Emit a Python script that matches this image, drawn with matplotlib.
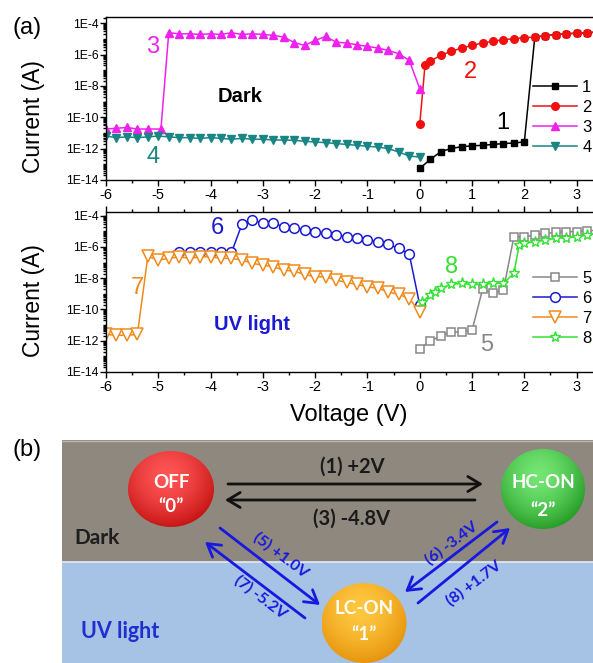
import numpy as np
import matplotlib
matplotlib.use("Agg")
import matplotlib.pyplot as plt
from matplotlib.patches import Ellipse, Rectangle
from matplotlib.ticker import FixedLocator, FuncFormatter, MultipleLocator, NullFormatter

plt.rcParams["font.family"] = ["Liberation Sans", "DejaVu Sans"]
plt.rcParams["axes.unicode_minus"] = False

# ---- I-V sweeps in the dark (log10 of current in A) ----
v1 = [0.0, 0.2, 0.4, 0.6, 0.8, 1.0, 1.2, 1.4, 1.6, 1.8, 2.0, 2.2, 2.4, 2.6, 2.8, 3.0, 3.2, 3.4]
logi1 = [-13.26, -12.69, -12.20, -11.99, -11.88, -11.82, -11.79, -11.73, -11.68, -11.64, -11.57,
         -4.89, -4.80, -4.74, -4.68, -4.64, -4.61, -4.57]

v2 = [0.0, 0.1, 0.2, 0.4, 0.6, 0.8, 1.0, 1.2, 1.4, 1.6, 1.8, 2.0, 2.2, 2.4, 2.6, 2.8, 3.0, 3.2, 3.4]
logi2 = [-10.45, -6.7, -6.42, -6.06, -5.80, -5.59, -5.42, -5.27, -5.15, -5.06, -4.99, -4.93,
         -4.89, -4.80, -4.74, -4.68, -4.64, -4.61, -4.57]

v3 = [-6.0, -5.8, -5.6, -5.4, -5.2, -4.95, -4.8, -4.6, -4.4, -4.2, -4.0, -3.8, -3.6, -3.4, -3.2,
      -3.0, -2.8, -2.6, -2.4, -2.2, -2.0, -1.8, -1.6, -1.4, -1.2, -1.0, -0.8, -0.6, -0.4, -0.2, 0.0]
logi3 = [-10.75, -10.7, -10.65, -10.75, -10.75, -10.75, -4.61, -4.68, -4.68, -4.72, -4.68, -4.72,
         -4.61, -4.72, -4.68, -4.72, -4.78, -4.89, -5.24, -5.42, -5.10, -4.85, -5.21, -5.27, -5.38,
         -5.48, -5.59, -5.74, -5.95, -6.38, -8.18]

v4 = [-6.0, -5.8, -5.6, -5.4, -5.2, -5.0, -4.8, -4.6, -4.4, -4.2, -4.0, -3.8, -3.6, -3.4, -3.2, -3.0,
      -2.8, -2.6, -2.4, -2.2, -2.0, -1.8, -1.6, -1.4, -1.2, -1.0, -0.8, -0.6, -0.4, -0.2, 0.0]
logi4 = [-11.2, -11.3, -11.25, -11.3, -11.25, -11.2, -11.25, -11.3, -11.3, -11.35, -11.3, -11.35,
         -11.4, -11.35, -11.4, -11.4, -11.45, -11.45, -11.47, -11.53, -11.58, -11.62, -11.68, -11.73,
         -11.79, -11.85, -11.90, -12.0, -12.22, -12.47, -12.54]

# ---- I-V sweeps under UV light ----
v5 = [0.0, 0.2, 0.4, 0.6, 0.8, 1.0, 1.2, 1.4, 1.6, 1.8, 2.0, 2.2, 2.4, 2.6, 2.8, 3.0, 3.2, 3.4]
logi5 = [-12.50, -12.03, -11.69, -11.44, -11.44, -11.33, -8.72, -8.94, -8.76, -5.35, -5.35, -5.24,
         -5.13, -5.07, -5.02, -5.02, -4.98, -4.92]

v6 = [-4.6, -4.4, -4.2, -4.0, -3.8, -3.6, -3.4, -3.2, -3.0, -2.8, -2.6, -2.4, -2.2, -2.0, -1.8,
      -1.6, -1.4, -1.2, -1.0, -0.8, -0.6, -0.4, -0.2, 0.0]
logi6 = [-6.35, -6.3, -6.35, -6.3, -6.35, -6.35, -4.55, -4.27, -4.49, -4.49, -4.70, -4.79, -4.92,
         -5.02, -5.13, -5.24, -5.35, -5.45, -5.56, -5.67, -5.84, -6.09, -6.47, -9.72]

v7 = [-6.0, -5.8, -5.6, -5.4, -5.2, -5.0, -4.8, -4.6, -4.4, -4.2, -4.0, -3.8, -3.6, -3.4, -3.2, -3.0,
      -2.8, -2.6, -2.4, -2.2, -2.0, -1.8, -1.6, -1.4, -1.2, -1.0, -0.8, -0.6, -0.4, -0.2, 0.0]
logi7 = [-11.6, -11.65, -11.65, -11.6, -6.6, -6.84, -6.73, -6.63, -6.73, -6.63, -6.63, -6.73, -6.73,
         -6.84, -7.05, -7.16, -7.27, -7.48, -7.55, -7.76, -7.91, -7.91, -8.12, -8.27, -8.40, -8.55,
         -8.65, -8.87, -9.04, -9.30, -10.15]

v8 = [0.05, 0.2, 0.3, 0.4, 0.6, 0.8, 1.0, 1.2, 1.4, 1.6, 1.8, 1.9, 2.0, 2.2, 2.4, 2.6, 2.8, 3.0, 3.2, 3.4]
logi8 = [-9.51, -9.08, -8.87, -8.65, -8.40, -8.33, -8.40, -8.40, -8.33, -8.33, -7.69, -5.88, -5.77,
         -5.67, -5.56, -5.45, -5.41, -5.35, -5.24, -5.13]

dark_labels = ["1", "2", "3", "4"]
uv_labels = ["5", "6", "7", "8"]

# ---- state diagram ----
state_names = ["OFF", "LC-ON", "HC-ON"]
state_codes = ["\u201c0\u201d", "\u201c1\u201d", "\u201c2\u201d"]
transition_labels = ["(1) +2V", "(3) -4.8V", "(5) +1.0V", "(7) -5.2V", "(6) -3.4V", "(8) +1.7V"]

W, H = 593, 663
fig = plt.figure(figsize=(W / 100, H / 100), dpi=100)


def setup_axes(ax, top_ticks):
    ax.set_yscale("log")
    ax.set_xlim(-6, 3.6)
    ax.yaxis.set_major_locator(FixedLocator(10.0 ** np.arange(-14, -3, 2)))
    minors = [m * 10.0 ** k for k in range(-14, -3) for m in range(1, 10)]
    ax.yaxis.set_minor_locator(FixedLocator(minors))
    ax.yaxis.set_major_formatter(FuncFormatter(lambda v, p: "1E%d" % round(np.log10(v))))
    ax.yaxis.set_minor_formatter(NullFormatter())
    ax.xaxis.set_major_locator(MultipleLocator(1))
    ax.xaxis.set_minor_locator(MultipleLocator(0.5))
    ax.tick_params(which="both", direction="out", width=1, top=top_ticks)
    ax.tick_params(which="major", length=4)
    ax.tick_params(which="minor", length=2.5)
    ax.tick_params(axis="x", labelsize=10.5, pad=2)
    ax.tick_params(axis="y", labelsize=8.8, pad=1.5)
    for s in ax.spines.values():
        s.set_linewidth(1.0)
    ax.set_ylabel("Current (A)", fontsize=16.5)


def px(x, y, ax_box, ylog_top, ylog_bot):
    """pixel position -> (voltage, current) for the given panel geometry"""
    x0, y0, x1, y1 = ax_box
    v = -6 + (x - x0) / (x1 - x0) * 9.6
    lg = ylog_top + (y - y0) / (y1 - y0) * (ylog_bot - ylog_top)
    return v, 10 ** lg


# ---------------- top panel: dark ----------------
top_box = (106, 17.5, 608, 180)
top_lim = (-3.64, -14.0)
ax1 = fig.add_axes([top_box[0] / W, 1 - top_box[3] / H,
                    (top_box[2] - top_box[0]) / W, (top_box[3] - top_box[1]) / H])
setup_axes(ax1, False)
ax1.set_ylim(10 ** top_lim[1], 10 ** top_lim[0])
ax1.yaxis.set_label_coords(-0.122, 0.39)

l1, = ax1.plot(v1, 10.0 ** np.array(logi1), "-s", color="black", ms=4.5, lw=1.1)
l2, = ax1.plot(v2, 10.0 ** np.array(logi2), "-o", color="#f01010", ms=5.5, lw=1.1)
l3, = ax1.plot(v3, 10.0 ** np.array(logi3), "-^", color="#ee22ee", ms=5.5, lw=1.1)
l4, = ax1.plot(v4, 10.0 ** np.array(logi4), "-v", color="#1a8585", ms=5.5, lw=1.1)
ax1.legend([l1, l2, l3, l4], dark_labels, loc="upper left", bbox_to_anchor=(0.8506, 0.615),
           frameon=False, fontsize=12, handlelength=2.65, handletextpad=0.3,
           labelspacing=0.3, borderpad=0, borderaxespad=0)

for txt, x, y, c in [("3", 153, 47, "#ee22ee"), ("4", 153, 157, "#1a8585"),
                     ("2", 470, 72, "#f01010"), ("1", 503, 123, "black")]:
    ax1.text(*px(x, y, top_box, *top_lim), txt, color=c, fontsize=17, ha="center", va="center")
ax1.text(*px(240, 97, top_box, *top_lim), "Dark", fontsize=14.5, fontweight="bold",
         ha="center", va="center")

# ---------------- bottom panel: UV light ----------------
bot_box = (106, 212, 608, 372)
bot_lim = (-3.763, -14.0)
ax2 = fig.add_axes([bot_box[0] / W, 1 - bot_box[3] / H,
                    (bot_box[2] - bot_box[0]) / W, (bot_box[3] - bot_box[1]) / H])
setup_axes(ax2, True)
ax2.set_ylim(10 ** bot_lim[1], 10 ** bot_lim[0])
ax2.yaxis.set_label_coords(-0.122, 0.445)
ax2.set_xlabel("Voltage (V)", fontsize=17, labelpad=1)
ax2.xaxis.set_label_coords(0.483, -0.2)

l5, = ax2.plot(v5, 10.0 ** np.array(logi5), "-s", color="#888888", mfc="white", ms=6, mew=1.1, lw=1.1)
l6, = ax2.plot(v6, 10.0 ** np.array(logi6), "-o", color="#1a1ad0", mfc="white", ms=7, mew=1.1, lw=1.1)
l7, = ax2.plot(v7, 10.0 ** np.array(logi7), "-v", color="#f08a1a", mfc="white", ms=8, mew=1.1, lw=1.1)
l8, = ax2.plot(v8, 10.0 ** np.array(logi8), "-*", color="#33e033", mfc="white", ms=8, mew=1.0, lw=1.1)
ax2.legend([l5, l6, l7, l8], uv_labels, loc="upper left", bbox_to_anchor=(0.8506, 0.63),
           frameon=False, fontsize=12, handlelength=2.65, handletextpad=0.3,
           labelspacing=0.3, borderpad=0, borderaxespad=0)

for txt, x, y, c in [("6", 217, 228, "#1a1ad0"), ("7", 137, 288, "#f08a1a"),
                     ("8", 452, 267, "#33e033"), ("5", 487, 345, "#888888")]:
    ax2.text(*px(x, y, bot_box, *bot_lim), txt, color=c, fontsize=17, ha="center", va="center")
ax2.text(*px(252, 325, bot_box, *bot_lim), "UV light", color="#1a1ad0", fontsize=14.5,
         fontweight="bold", ha="center", va="center")

fig.text(13 / W, 1 - 28 / H, "(a)", fontsize=17, va="center")
fig.text(12 / W, 1 - 450 / H, "(b)", fontsize=17, va="center")

# ---------------- state diagram ----------------
axb = fig.add_axes([0, 0, 1, 1])
axb.axis("off")
calibri = ["Lato", "DejaVu Sans"]

axb.add_patch(Rectangle((62, 440), 540, 122, facecolor="#8e887e", edgecolor="none", zorder=1))
axb.add_patch(Rectangle((62, 562), 540, 101, facecolor="#a6c2e4", edgecolor="none", zorder=1))
axb.plot([62, 593], [562, 562], color="#e4ecf4", lw=1.2, zorder=1.5)
axb.plot([62, 593], [440.5, 440.5], color="#bcb7ae", lw=1.0, zorder=1.5)

axb.text(97, 538, "Dark", fontsize=15, fontweight="bold", color="#1e1e1e", family=calibri,
         ha="center", va="center")
axb.text(120, 632, "UV light", fontsize=15.5, fontweight="bold", color="#1f2fd0", family=calibri,
         ha="center", va="center")


def ball(cx, cy, w, h, light, dark, name, code, dy1, dy2):
    yy, xx = np.mgrid[0:1:160j, 0:1:160j]
    r = np.hypot((xx - 0.45) / 0.72, (yy - 0.32) / 0.8)
    t = np.clip(r, 0, 1)[..., None] ** 1.6
    img = np.array(light) * (1 - t) + np.array(dark) * t
    im = axb.imshow(img, extent=(cx - w / 2, cx + w / 2, cy + h / 2, cy - h / 2),
                    origin="upper", aspect="auto", interpolation="bilinear", zorder=3)
    edge = Ellipse((cx, cy), w, h, facecolor="none", edgecolor="none", zorder=3)
    axb.add_patch(edge)
    im.set_clip_path(edge)
    axb.text(cx, cy + dy1, name, color="white", fontsize=13.5, fontweight="bold",
             family=calibri, ha="center", va="center", zorder=4)
    axb.text(cx, cy + dy2, code, color="white", fontsize=13.5, fontweight="bold",
             family=calibri, ha="center", va="center", zorder=4)


ball(171, 489, 86, 76, (1.0, 0.33, 0.33), (0.72, 0.02, 0.02), state_names[0], state_codes[0], -6, 17)
ball(364, 623, 85, 80, (1.0, 0.78, 0.25), (0.88, 0.53, 0.0), state_names[1], state_codes[1], -14, 11)
ball(543, 489, 84, 80, (0.45, 0.9, 0.45), (0.08, 0.55, 0.08), state_names[2], state_codes[2], -6, 21)


def arrow(start, end, color):
    axb.annotate("", xy=end, xytext=start, zorder=2,
                 arrowprops=dict(arrowstyle="->,head_length=0.5,head_width=0.3", color=color,
                                 lw=2.0, mutation_scale=18, shrinkA=0, shrinkB=0))


blue = "#1818e0"
arrow((228, 484), (483, 484), "#111111")
arrow((475, 500), (225, 500), "#111111")
arrow((220, 528), (320, 605), blue)
arrow((305, 618), (205, 542), blue)
arrow((497, 522), (405, 592), blue)
arrow((418, 603), (510, 528), blue)

axb.text(352, 467, transition_labels[0], fontsize=14.5, fontweight="bold", color="#1a1a1a",
         family=calibri, ha="center", va="center")
axb.text(352, 519, transition_labels[1], fontsize=14.5, fontweight="bold", color="#1a1a1a",
         family=calibri, ha="center", va="center")
for txt, x, y, rot in [(transition_labels[2], 281, 555, -37), (transition_labels[3], 261, 597, -37),
                       (transition_labels[4], 452, 543, 37), (transition_labels[5], 474, 583, 37)]:
    axb.text(x, y, txt, fontsize=11.5, fontweight="bold", color=blue, family=calibri,
             rotation=rot, rotation_mode="anchor", ha="center", va="center")

axb.set_xlim(0, W)
axb.set_ylim(H, 0)

fig.savefig("out.png", dpi=100)
